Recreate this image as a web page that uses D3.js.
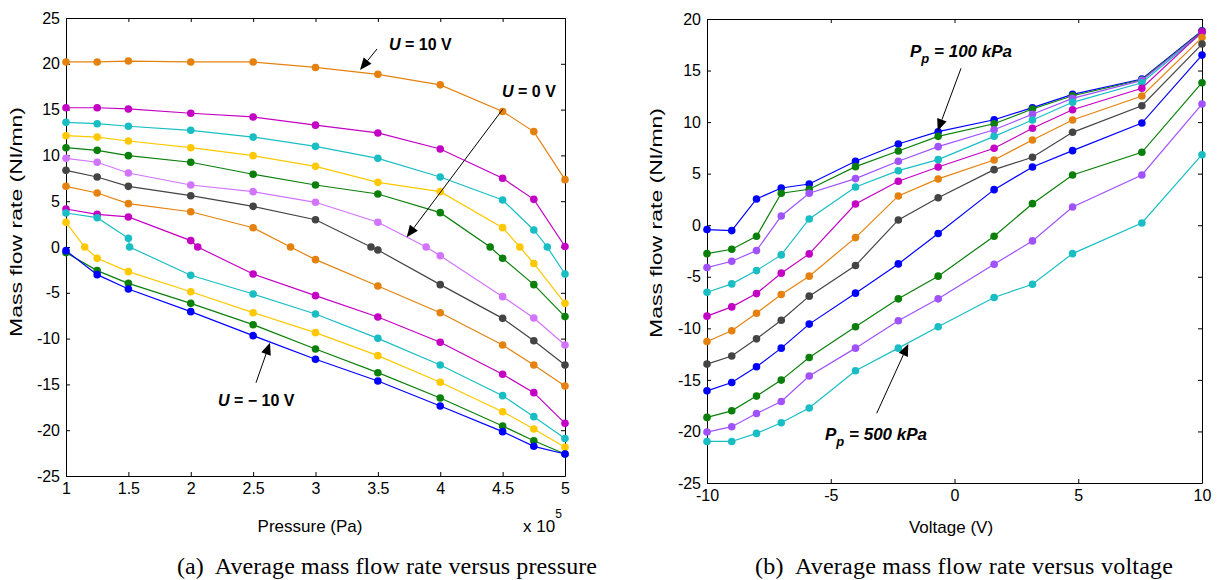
<!DOCTYPE html>
<html><head><meta charset="utf-8">
<script src="https://cdn.jsdelivr.net/npm/d3@7"></script>
<style>
body{margin:0;background:#fff}
svg text{font-family:"Liberation Sans",Arial,sans-serif;fill:#000}
.cap{font-family:"Liberation Serif","Times New Roman",serif !important;white-space:pre}
</style></head><body>
<svg id="c" width="1217" height="580"></svg>
<script>
// ---------- Data: panel (a) mass flow vs pressure ----------
const pressure = [1, 1.25, 1.5, 2, 2.5, 3, 3.5, 4, 4.5, 4.75, 5];
const pressureTicks = [1, 1.5, 2, 2.5, 3, 3.5, 4, 4.5, 5];
const flowTicksA = [-25, -20, -15, -10, -5, 0, 5, 10, 15, 20, 25];
const aSeries1 = [20.2, 20.2, 20.3, 20.2, 20.2, 19.6, 18.85, 17.7, 14.8, 12.6, 7.35];
const aSeries2 = [15.2, 15.2, 15.07, 14.6, 14.2, 13.3, 12.45, 10.7, 7.5, 5.2, 0.05];
const aSeries3 = [13.61, 13.46, 13.18, 12.74, 12.0, 10.99, 9.68, 7.64, 5.13, 1.86, -2.95];
const aSeries4 = [12.15, 12.0, 11.57, 10.84, 9.97, 8.81, 7.06, 6.04, 2.11, -1.8, -6.15];
const aSeries5 = [10.84, 10.55, 9.97, 9.25, 7.94, 6.77, 5.79, 3.75, -1.23, -4.11, -7.6];
const aSeries6 = [9.68, 9.25, 8.08, 6.77, 6.04, 4.88, 2.7, -0.95, -5.42, -7.75, -10.7];
const aSeries7 = [8.37, 7.64, 6.62, 5.6, 4.44, 2.98, -0.33, -4.11, -7.79, -10.23, -12.88];
const aSeries8 = [6.62, 5.9, 4.73, 3.85, 2.1, -1.38, -4.26, -7.17, -10.7, -12.88, -15.17];
const aSeries9 = [4.15, 3.57, 3.28, 0.7, -2.95, -5.31, -7.64, -10.4, -13.9, -15.9, -19.25];
const aSeries10 = [3.71, 3.2, 0.95, -3.09, -5.13, -7.31, -9.97, -12.88, -16.23, -18.52, -20.9];
const aSeries11 = [2.69, -1.24, -2.69, -4.88, -7.17, -9.35, -11.86, -14.77, -17.98, -19.87, -21.87];
const aSeries12 = [-0.62, -2.58, -3.97, -6.15, -8.48, -11.14, -13.72, -16.48, -19.54, -21.15, -22.6];
const aSeries13 = [-0.4, -3.02, -4.59, -7.06, -9.68, -12.26, -14.63, -17.36, -20.16, -21.76, -22.6];
// pressure at which each series has an extra measured point at zero flow (null = none)
const aZeroCross = [null, null, 4.858, 4.638, 4.40, 3.887, 3.445, 2.80, 2.056, 1.51, 1.15, null, null];
const aColors = ["#e5820f", "#c400c4", "#19bec4", "#ffc800", "#0a800a", "#d274ff", "#444444",
                 "#e5820f", "#c400c4", "#19bec4", "#ffc800", "#0a800a", "#0000ff"];

// ---------- Data: panel (b) mass flow vs voltage ----------
const voltage = [-10, -9, -8, -7, -5.87, -4, -2.27, -0.66, 1.6, 3.15, 4.77, 7.57, 10];
const voltageTicks = [-10, -5, 0, 5, 10];
const flowTicksB = [-25, -20, -15, -10, -5, 0, 5, 10, 15, 20];
const bSeries1 = [-0.42, -0.52, 2.55, 3.61, 4.0, 6.2, 7.88, 9.07, 10.23, 11.4, 12.69, 14.18, 18.86];
const bSeries2 = [-2.75, -2.33, -1.07, 3.1, 3.49, 5.68, 7.2, 8.62, 9.84, 11.27, 12.56, 14.11, 18.8];
const bSeries3 = [-4.11, -3.49, -2.46, 0.9, 3.1, 4.52, 6.2, 7.62, 9.26, 10.76, 12.3, 14.05, 18.73];
const bSeries4 = [-6.5, -5.69, -4.4, -2.88, 0.61, 3.71, 5.29, 6.36, 8.62, 10.2, 11.92, 13.82, 18.65];
const bSeries5 = [-8.82, -7.92, -6.63, -4.65, -2.78, 2.06, 4.26, 5.65, 7.46, 9.4, 11.2, 13.28, 18.75];
const bSeries6 = [-11.28, -10.24, -8.53, -6.72, -4.94, -1.2, 2.84, 4.49, 6.33, 8.27, 10.2, 12.53, 18.2];
const bSeries7 = [-13.47, -12.69, -11.02, -9.21, -6.88, -3.91, 0.51, 2.67, 5.39, 6.59, 9.01, 11.59, 17.57];
const bSeries8 = [-16.06, -15.25, -13.73, -11.92, -9.59, -6.59, -3.75, -0.81, 3.45, 5.65, 7.23, 9.91, 16.5];
const bSeries9 = [-18.64, -18.0, -16.57, -15.02, -12.83, -9.85, -7.14, -4.94, -1.07, 2.09, 4.87, 7.07, 13.82];
const bSeries10 = [-20.06, -19.54, -18.26, -17.09, -14.63, -11.92, -9.27, -7.14, -3.78, -1.52, 1.77, 4.87, 11.75];
const bSeries11 = [-20.97, -20.97, -20.19, -19.16, -17.73, -14.12, -11.92, -9.85, -7.01, -5.72, -2.75, 0.22, 6.84];
const bColors = ["#0000ff", "#0a800a", "#a052ff", "#19bec4", "#c400c4", "#e5820f", "#444444",
                 "#0000ff", "#0a800a", "#a052ff", "#19bec4"];

// ---------- Drawing ----------
const svg = d3.select("#c");
svg.append("rect").attr("width", 1217).attr("height", 580).attr("fill", "#fff");
const fmt = d => String(d);

function drawPanel(o) {
  const g = svg.append("g");
  const x = d3.scaleLinear().domain(o.xd).range(o.xr);
  const y = d3.scaleLinear().domain(o.yd).range(o.yr);
  const [L, R] = o.xr, [B, T] = o.yr;
  const style = sel => {
    sel.selectAll("path.domain").attr("stroke", "#000").attr("stroke-width", 1);
    sel.selectAll(".tick line").attr("stroke", "#000");
    sel.selectAll("text").attr("font-size", 16).attr("fill", "#000")
      .style("font-family", "'Liberation Sans',Arial,sans-serif");
  };
  g.append("g").attr("transform", `translate(0,${B})`)
    .call(d3.axisBottom(x).tickValues(o.xt).tickSize(-4).tickSizeOuter(0).tickPadding(7).tickFormat(fmt)).call(style);
  g.append("g").attr("transform", `translate(0,${T})`)
    .call(d3.axisTop(x).tickValues(o.xt).tickSize(-4).tickSizeOuter(0).tickFormat("")).call(style);
  g.append("g").attr("transform", `translate(${L},0)`)
    .call(d3.axisLeft(y).tickValues(o.yt).tickSize(-4).tickSizeOuter(0).tickPadding(6).tickFormat(fmt)).call(style);
  g.append("g").attr("transform", `translate(${R},0)`)
    .call(d3.axisRight(y).tickValues(o.yt).tickSize(-4).tickSizeOuter(0).tickFormat("")).call(style);

  const line = d3.line().x(d => x(d[0])).y(d => y(d[1]));
  o.series.forEach((pts, i) => {
    const c = o.colors[i];
    g.append("path").datum(pts).attr("d", line).attr("fill", "none")
      .attr("stroke", c).attr("stroke-width", 1.2);
    g.selectAll(null).data(pts).enter().append("circle")
      .attr("cx", d => x(d[0])).attr("cy", d => y(d[1])).attr("r", 3.8).attr("fill", c);
  });
  // y label
  g.append("text").attr("transform", `translate(${o.ylx},${o.yly}) rotate(-90)`)
    .attr("text-anchor", "middle").attr("font-size", 16)
    .attr("textLength", 230).attr("lengthAdjust", "spacingAndGlyphs")
    .text("Mass flow rate (Nl/mn)");
  return {g, x, y};
}

function buildA(vals, cross) {
  const pts = pressure.map((p, i) => [p, vals[i]]);
  if (cross !== null) { pts.push([cross, 0]); pts.sort((a, b) => a[0] - b[0]); }
  return pts;
}
const aAll = [aSeries1, aSeries2, aSeries3, aSeries4, aSeries5, aSeries6, aSeries7,
              aSeries8, aSeries9, aSeries10, aSeries11, aSeries12, aSeries13];
const bAll = [bSeries1, bSeries2, bSeries3, bSeries4, bSeries5, bSeries6, bSeries7,
              bSeries8, bSeries9, bSeries10, bSeries11];

drawPanel({
  xd: [1, 5], xr: [66, 565], yd: [-25, 25], yr: [476, 18],
  xt: pressureTicks, yt: flowTicksA, colors: aColors,
  series: aAll.map((s, i) => buildA(s, aZeroCross[i])),
  ylx: 22, yly: 222
});
drawPanel({
  xd: [-10, 10], xr: [707, 1202], yd: [-25, 20], yr: [483, 19],
  xt: voltageTicks, yt: flowTicksB, colors: bColors,
  series: bAll.map(s => voltage.map((v, i) => [v, s[i]])),
  ylx: 662, yly: 223
});

// axis titles
svg.append("text").attr("x", 310).attr("y", 532).attr("text-anchor", "middle").attr("font-size", 17).text("Pressure (Pa)");
const xe = svg.append("text").attr("x", 523).attr("y", 532).attr("font-size", 17);
xe.append("tspan").text("x 10");
xe.append("tspan").attr("font-size", 12).attr("dy", -14).text("5");
svg.append("text").attr("x", 951).attr("y", 533).attr("text-anchor", "middle").attr("font-size", 17).text("Voltage (V)");

// captions
svg.append("text").attr("class", "cap").attr("x", 177).attr("y", 574).attr("font-size", 24)
  .attr("textLength", 420).attr("lengthAdjust", "spacing")
  .text("(a)  Average mass flow rate versus pressure");
svg.append("text").attr("class", "cap").attr("x", 755).attr("y", 574).attr("font-size", 24)
  .attr("textLength", 418).attr("lengthAdjust", "spacing")
  .text("(b)  Average mass flow rate versus voltage");

// annotations
function arrow(x1, y1, x2, y2) {
  const a = Math.atan2(y2 - y1, x2 - x1), len = 12, hw = 5;
  const bx = x2 - len * Math.cos(a), by = y2 - len * Math.sin(a);
  svg.append("line").attr("x1", x1).attr("y1", y1).attr("x2", bx).attr("y2", by)
    .attr("stroke", "#000").attr("stroke-width", 1);
  const px = -Math.sin(a) * hw, py = Math.cos(a) * hw;
  svg.append("path").attr("d", `M${x2},${y2}L${bx + px},${by + py}L${bx - px},${by - py}Z`).attr("fill", "#000");
}
function uLabel(x, y, rest) {
  const t = svg.append("text").attr("x", x).attr("y", y).attr("font-size", 16).attr("font-weight", "bold");
  t.append("tspan").attr("font-style", "italic").text("U");
  t.append("tspan").text(rest);
}
function pLabel(x, y, rest) {
  const t = svg.append("text").attr("x", x).attr("y", y).attr("font-size", 17)
    .attr("font-weight", "bold").attr("font-style", "italic");
  t.append("tspan").text("P");
  t.append("tspan").attr("font-size", 13).attr("dy", 6).text("p");
  t.append("tspan").attr("dy", -6).text(rest);
}
uLabel(389, 50, " = 10 V");
arrow(377, 49, 360, 70);
uLabel(502, 97, " = 0 V");
arrow(502.7, 109.3, 406.7, 237.3);
uLabel(218, 406, " = \u2212 10 V");
arrow(256, 382.7, 270, 342.7);
pLabel(910, 57, " = 100 kPa");
arrow(961, 68.3, 937.7, 131);
pLabel(825, 440, " = 500 kPa");
arrow(876.7, 413.3, 908.3, 344);
</script>
</body></html>
